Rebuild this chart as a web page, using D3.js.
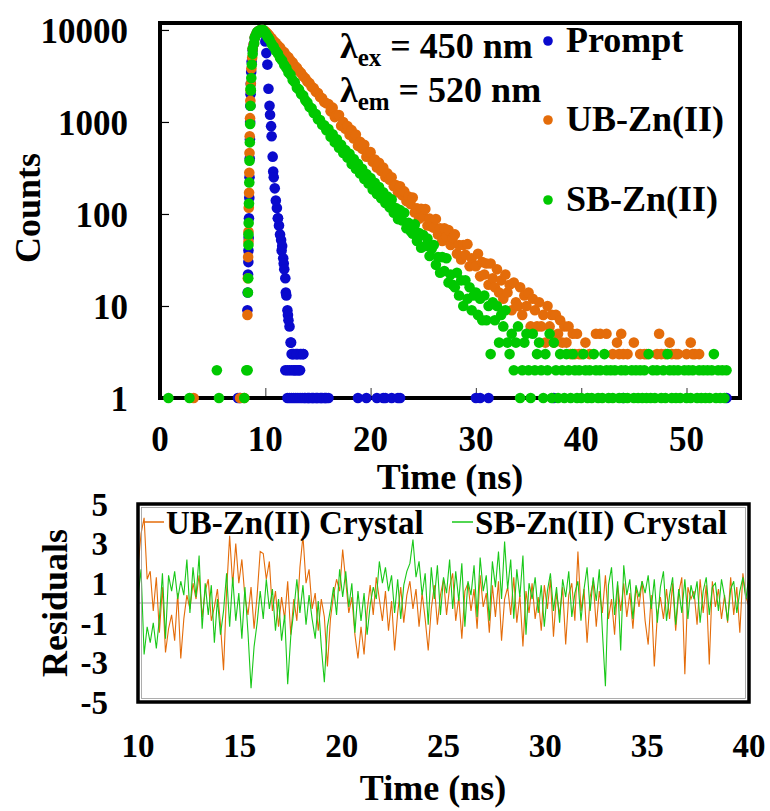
<!DOCTYPE html>
<html><head><meta charset="utf-8">
<script src="https://cdn.jsdelivr.net/npm/d3@7/dist/d3.min.js"></script>
<style>
body{margin:0;background:#fff}
svg{display:block}
text{font-family:"Liberation Serif","Times New Roman",serif;font-weight:bold;fill:#000}
</style>
</head><body>
<svg id="chart" width="770" height="811"></svg>
<script>
// ---------- DATA (top panel: TCSPC decay, counts per 0.2 ns channel, t = 0 ... 54 ns) ----------
const channelWidth = 0.2;
const seriesNames = ["Prompt", "UB-Zn(II)", "SB-Zn(II)"];
const seriesColors = ["#0A0ACD", "#E46C0A", "#00C800"];
const xTicksTop = [0, 10, 20, 30, 40, 50];
const yTicksTop = [1, 10, 100, 1000, 10000];

const promptCounts = [
0,0,0,0,0,0,0,0,0,0, 0,0,0,0,0,0,0,0,0,0, 0,0,0,0,0,0,0,0,0,0, 0,0,0,0,0,0,0,1,1,0,
0,0,40,2000,6000,8200,9300,9800,10000,10000,
7500,4200,1500,700,250,140,90,60,45,25,
13,7,4,3,2,3,2,3,3,1,
1,1,1,1,1,1,1,1,1,1,
1,0,0,0,0,0,0,0,0,0,
0,0,0,0,1,0,0,0,1,0,
0,0,0,1,0,0,1,1,0,0,
1,0,0,1,1,0,0,0,0,0,
0,0,0,0,0,0,0,0,0,0, 0,0,0,0,0,0,0,0,0,0, 0,0,0,0,0,0,0,0,0,0,
1,0,1,0,0,0,1,0,0,0,
0,0,0,0,0,0,0,0,0,0, 0,0,0,0,0,0,0,0,0,0,
0,0,0,0,0,0,0,1,0,0,
0,0,0,0,0,0,0,0,0,0, 0,0,0,0,0,0,0,0,0,0, 0,0,0,0,0,0,0,0,0,0,
1,0,0,0,0,0,0,0,0,0,
0,0,0,0,0,0,0,0,0,0, 0,0,0,0,0,0,0,0,0,0, 0,0,0,0,0,0,0,0,0,0,
0,0,0,0,0,0,0,0,0,1,0];
const promptExtra = [
[8.3,9],[8.33,14],[8.36,22],[8.39,30],[8.42,55],[8.45,90],[8.48,150],[8.5,250],[8.52,400],[8.54,650],
[8.56,1000],[8.58,1500],[8.62,2600],[8.66,3500],[8.7,4500],[8.9,7000],[9.1,8800],[9.3,9600],[9.5,9900],[9.7,10000],
[9.9,9200],[10.1,5600],[10.3,2300],[10.45,1200],[10.55,900],[10.7,420],[10.75,290],[10.9,190],[11.1,116],[11.2,90],
[11.3,75],[11.5,52],[11.55,40],[11.7,33],[11.75,29],[11.9,20],[11.95,14],[12.1,9],[12.15,8],[12.3,6],
[12.45,4],[12.5,3],[12.7,3],[12.9,3],[13.1,3],[13.3,3],[13.6,3],[11.9,2],[12.1,2],[12.3,2],
[12.5,2],[12.7,2],[12.9,2],[13.1,2],[13.3,2],[12.1,1],[12.3,1],[12.5,1],[12.7,1],[12.9,1],
[13.1,1],[13.3,1],[13.5,1],[13.7,1],[14.1,1],[14.5,1],[14.9,1],[15.3,1],[15.7,1]];

const ubCounts = [
0,0,0,0,0,0,0,0,0,0, 0,0,0,0,0,0,1,0,0,0, 0,0,0,0,0,0,0,0,0,0, 0,0,0,0,0,0,0,0,1,0,
1,0,50,2200,6200,8300,9300,9800,10000,10000,
9600,9150,8580,8120,7570,7230,6770,6430,5960,5730,
5280,5040,4660,4430,4070,3880,3570,3410,3140,2990,
2760,2640,2420,2330,2130,2060,1870,1810,1650,1600,
1570,1305,1430,1130,1185,1190,910,1000,845,905,
725,815,660,730,550,610,510,565,420,467,
470,370,390,320,360,293,320,252,276,236,
250,200,206,172,200,160,176,138,155,128,
151,104,115,89,114,94,113,75,89,73,
71,88,60,70,51,70,57,67,46,55,
60,37,46,32,46,36,47,27,33,28,
27,37,21,30,22,29,17,29,20,16,
25,14,19,12,22,14,17,9,18,11,
10,16,8,13,10,14,6,12,9,6,
11,6,8,4,10,6,8,4,8,5,
7,4,6,4,6,3,5,3,5,3,
3,0,4,0,3,0,0,5,0,5,
0,0,5,0,0,3,0,4,3,5,
3,0,3,0,0,4,0,0,3,0,
3,3,0,0,0,0,3,5,3,0,
3,0,4,3,0,3,3,0,0,0,
3,0,4,3,3,0,3,0,0,0,
0,0,0,0,0,0,0,0,0,0,0];
const ubExtra = [
[8.3,8],[8.34,20],[8.37,34],[8.4,64],[8.43,117],[8.46,170],[8.48,280],[8.5,460],[8.52,700],[8.55,1100],
[8.58,1700],[8.62,2600],[8.68,3800],[8.75,5000],[8.9,7000],[9.1,8800],[9.3,9600],[9.5,9900],[9.7,10000],[9.9,9800],
[10.1,9400],[10.3,8850]];

const sbCounts = [
0,0,0,0,1,0,0,0,0,0, 0,0,0,0,1,0,0,0,0,0, 0,0,0,0,0,0,0,2,1,0, 0,0,0,0,0,0,0,0,0,0,
1,2,60,2300,6300,8300,9400,9800,10000,10000,
9300,8450,7850,7050,6550,5950,5550,4950,4650,4150,
3850,3450,3250,2850,2700,2350,2260,2010,1940,1720,
1630,1450,1410,1250,1220,1070,1050,930,920,815,
840,690,735,600,650,525,565,460,495,410,
450,350,395,310,350,275,310,240,272,215,
246,185,218,165,196,148,172,132,155,118,
144,103,116,88,110,85,103,70,80,65,
61,77,51,62,43,59,45,54,35,42,
46,28,34,23,34,24,33,18,22,17,
16,23,13,19,10,19,12,16,9,13,
14,8,12,7,13,7,10,3,11,7,
10,4,8,6,9,4,3,5,2,4,
6,1,2,4,5,2,1,5,2,3,
4,2,1,3,2,5,1,4,2,1,
3,2,1,3,2,1,3,2,1,2,
1,3,2,1,2,1,3,2,1,2,
1,3,2,1,2,1,2,0,1,2,
1,2,1,0,2,1,2,1,2,1,
2,1,3,1,2,1,2,0,1,2,
1,3,2,1,2,1,2,1,0,2,
1,2,1,2,0,1,2,1,2,1,
2,1,2,3,1,2,1,2,1,2,0];
const sbExtra = [
[8.32,2],[8.35,14],[8.38,20],[8.4,46],[8.42,80],[8.45,130],[8.48,220],[8.5,380],[8.53,600],[8.56,950],
[8.6,1500],[8.63,2200],[8.67,3000],[8.72,4200],[8.8,5500],[8.95,7200],[9.1,8700],[9.3,9500],[9.5,9900],[9.7,10000],
[9.9,9300],[10.1,8900],[10.3,8200]];

// ---------- DATA (bottom panel: weighted residuals, every 0.15 ns from 10 to 40 ns) ----------
const residualStart = 10, residualStep = 0.15;
const residualNames = ["UB-Zn(II) Crystal", "SB-Zn(II) Crystal"];
const xTicksRes = [10, 15, 20, 25, 30, 35, 40];
const yTicksRes = [5, 3, 1, -1, -3, -5];
const ubResidual = [
1.8,3.5,4.3,1.2,1.6,-0.4,1.3,-1.5,0.8,-2.5,
-1.3,-0.6,-1.9,0.5,-2.8,-0.8,0.4,-0.3,1.0,0.2,
1.4,-0.7,0.6,1.2,-0.9,-0.2,0.7,-1.1,-3.4,0.6,
3.4,0.9,3.0,1.0,2.2,0.3,-0.6,0.8,-1.3,0.4,
2.6,2.5,1.2,2.1,-0.4,0.6,-1.2,0.3,-0.8,1.1,
-1.6,0.2,-0.9,1.8,3.4,1.0,1.7,-0.3,0.5,-1.4,
0.2,-0.7,-3.2,-0.8,0.4,1.2,0.6,2.7,1.1,-0.5,
0.3,-1.6,-2.8,-1.2,-2.6,-0.4,0.9,-0.6,1.3,0.2,
-0.9,0.6,-1.4,0.1,-2.4,-0.5,0.8,-1.0,0.4,1.1,
-0.3,0.7,-1.2,0.5,-0.8,-2.4,-0.3,0.9,-1.1,0.4,
1.2,-0.6,0.8,1.5,-0.9,0.3,-1.8,0.6,1.0,-0.4,
0.7,-1.3,1.4,-0.2,0.5,-1.5,0.9,-0.7,1.1,-1.9,
0.2,0.8,-0.6,1.3,-1.0,0.4,-2.2,0.6,-0.5,1.0,
-0.8,0.3,-1.4,0.9,-0.3,1.2,-1.7,0.5,-0.6,0.8,
-2.1,0.4,1.0,-0.9,2.6,-0.4,0.7,-2.0,0.3,1.1,
-1.2,0.6,-0.5,1.4,-0.8,0.2,-1.6,0.9,-0.4,1.0,
-0.7,0.5,-1.3,0.8,-0.2,1.1,-0.9,-2.1,0.4,-3.2,
-0.6,0.3,-0.8,0.7,-0.8,1.0,-1.4,0.5,1.3,-3.6,
0.8,0.2,0.6,-1.1,1.2,-0.5,0.9,-3.1,1.1,-0.2,
0.7,-0.8,0.4,-1.0,1.3,-0.6,0.8,-1.5,1.5,0.3,
-0.2];
const sbResidual = [
0.3,1.7,-2.6,-1.2,-2.0,-1.0,-2.3,-0.8,1.5,-1.8,
1.4,0.6,1.6,0.2,1.1,0.4,2.2,-0.5,1.8,0.3,
2.4,-1.3,1.0,-0.6,0.9,-2.0,0.2,-1.6,-0.4,1.5,
-1.2,1.3,-0.9,0.5,-1.8,0.8,-1.5,-4.3,-2.2,-1.0,
0.6,-0.8,1.2,-0.3,0.7,-1.4,0.2,-1.9,-0.6,-4.1,
-1.7,-0.4,1.2,-0.5,0.9,-1.1,0.4,-0.8,-1.8,0.1,
-2.2,-4.0,-1.2,-0.3,0.8,-0.6,1.7,0.3,1.6,-0.2,
1.0,-1.5,0.6,-0.9,0.5,-1.6,-0.1,0.8,0.2,2.1,
1.0,1.8,0.6,1.4,-0.5,1.2,-0.8,0.9,1.6,2.0,
3.2,1.3,2.1,0.4,1.5,-1.1,1.8,0.2,1.9,-0.6,
1.3,0.5,2.2,-0.3,1.6,0.1,2.0,-1.2,1.1,0.4,
1.9,-0.7,2.3,0.6,1.4,-0.9,2.1,0.8,2.6,0.2,
3.1,0.7,2.2,-0.8,1.7,0.3,2.4,-1.6,1.0,0.2,
1.3,-0.5,0.9,-1.2,0.6,1.5,-0.4,0.8,-1.0,1.2,
0.3,1.6,-0.7,0.5,1.1,-0.9,0.7,1.8,-0.4,1.3,
0.1,1.7,-1.4,-4.2,0.9,1.8,-0.6,1.1,-2.4,1.9,
0.4,1.2,-0.8,0.9,0.3,1.1,0.5,1.4,-0.3,1.2,
-1.0,0.8,1.6,-0.9,0.4,1.3,-1.1,0.7,-0.5,1.2,
-0.8,0.9,0.2,1.1,-1.0,0.6,1.3,-0.6,0.8,1.0,
-0.4,1.2,0.3,-0.9,0.7,1.1,-0.5,0.6,1.3,0.2,
1.4];

// ---------- DRAW ----------
const svg = d3.select("#chart");
const FS_TICK = 35, FS_TITLE = 36, FS_LEG = 36;

// ===== Top panel =====
const T = {l:160, r:740, t:23, b:398};
const x1 = d3.scaleLinear().domain([0, 55.08]).range([T.l, T.r]);
const y1 = d3.scaleLog().domain([1, 11900]).range([T.b, T.t]);

svg.append("g").attr("transform", `translate(0,${T.b})`)
  .call(d3.axisBottom(x1).tickValues(xTicksTop.filter(v => v > 0)).tickSize(-10).tickFormat(""))
  .call(g => { g.select(".domain").remove(); g.selectAll("line").attr("stroke", "#555").attr("stroke-width", 1.2); });
svg.append("g").attr("transform", `translate(${T.l},0)`)
  .call(d3.axisLeft(y1).tickValues(yTicksTop.filter(v => v > 1)).tickSize(-9).tickFormat(""))
  .call(g => { g.select(".domain").remove(); g.selectAll("line").attr("stroke", "#000").attr("stroke-width", 1.2); });

svg.append("rect").attr("x", T.l).attr("y", T.t).attr("width", T.r - T.l).attr("height", T.b - T.t)
  .attr("fill", "none").attr("stroke", "#000").attr("stroke-width", 4);

svg.append("g").selectAll("text").data(xTicksTop).join("text")
  .attr("x", d => x1(d)).attr("y", 451).attr("text-anchor", "middle")
  .attr("font-size", FS_TICK).text(d => d);
svg.append("g").selectAll("text").data(yTicksTop).join("text")
  .attr("x", 128).attr("y", d => y1(d)).attr("dy", "0.36em").attr("text-anchor", "end")
  .attr("font-size", FS_TICK).text(d => d);

svg.append("text").attr("x", 450).attr("y", 489).attr("text-anchor", "middle")
  .attr("font-size", FS_TITLE).text("Time (ns)");
svg.append("text").attr("transform", "translate(40,208) rotate(-90)").attr("text-anchor", "middle")
  .attr("font-size", FS_TITLE).text("Counts");

function points(counts, extra) {
  const p = [];
  extra.forEach(e => p.push(e));
  counts.forEach((c, i) => { if (c > 0) p.push([i * channelWidth, c]); });
  return p;
}
const decaySeries = [points(promptCounts, promptExtra), points(ubCounts, ubExtra), points(sbCounts, sbExtra)];
decaySeries.forEach((pts, k) => {
  svg.append("g").selectAll("circle").data(pts).join("circle")
    .attr("cx", d => x1(d[0])).attr("cy", d => y1(d[1])).attr("r", 5.3)
    .attr("fill", seriesColors[k]);
});

const legY = [41, 120, 200];
seriesNames.forEach((n, k) => {
  svg.append("circle").attr("cx", 548).attr("cy", legY[k]).attr("r", 4.8).attr("fill", seriesColors[k]);
  svg.append("text").attr("x", 566).attr("y", legY[k] + 11).attr("font-size", FS_LEG).text(n);
});

function lambdaLine(y, sub, rest) {
  const t = svg.append("text").attr("x", 340).attr("y", y).attr("font-size", FS_LEG);
  t.append("tspan").text("λ");
  t.append("tspan").attr("font-size", 25).attr("dy", 8).text(sub);
  t.append("tspan").attr("dy", -8).text(" " + rest);
}
lambdaLine(58, "ex", "= 450 nm");
lambdaLine(102, "em", "= 520 nm");

// ===== Bottom panel: residuals =====
const B = {l:138, r:749, t:504, b:702};
const x2 = d3.scaleLinear().domain([10, 40]).range([B.l, B.r]);
const y2 = d3.scaleLinear().domain([-5, 5]).range([B.b, B.t]);

svg.append("defs").append("clipPath").attr("id", "resclip")
  .append("rect").attr("x", B.l).attr("y", B.t).attr("width", B.r - B.l).attr("height", B.b - B.t);

svg.append("line").attr("x1", B.l).attr("x2", B.r).attr("y1", y2(0)).attr("y2", y2(0))
  .attr("stroke", "#BDBDBD").attr("stroke-width", 1.6);

const resLine = d3.line().x((d, i) => x2(residualStart + i * residualStep)).y(d => y2(d));
const resData = [ubResidual, sbResidual];
const resColors = [seriesColors[1], "#19C819"];
resData.forEach((arr, k) => {
  svg.append("path").datum(arr).attr("d", resLine).attr("fill", "none")
    .attr("stroke", resColors[k]).attr("stroke-width", 1.1).attr("clip-path", "url(#resclip)");
});

svg.append("rect").attr("x", B.l).attr("y", B.t).attr("width", B.r - B.l).attr("height", B.b - B.t)
  .attr("fill", "none").attr("stroke", "#000").attr("stroke-width", 3.5);
svg.append("rect").attr("x", B.l + 3.5).attr("y", B.t + 3.5).attr("width", B.r - B.l - 7).attr("height", B.b - B.t - 7)
  .attr("fill", "none").attr("stroke", "#9a9a9a").attr("stroke-width", 0.8);

const rLegX = [143, 452], rLegText = [166, 475];
residualNames.forEach((n, k) => {
  svg.append("line").attr("x1", rLegX[k]).attr("x2", rLegX[k] + 21).attr("y1", 522).attr("y2", 522)
    .attr("stroke", resColors[k]).attr("stroke-width", 1.5);
  svg.append("text").attr("x", rLegText[k]).attr("y", 534).attr("font-size", 33).text(n);
});

svg.append("g").selectAll("text").data(xTicksRes).join("text")
  .attr("x", d => x2(d)).attr("y", 757).attr("text-anchor", "middle")
  .attr("font-size", 33).text(d => d);
svg.append("g").selectAll("text").data(yTicksRes).join("text")
  .attr("x", 108).attr("y", d => y2(d)).attr("dy", "0.36em").attr("text-anchor", "end")
  .attr("font-size", 33).text(d => d);

svg.append("text").attr("x", 433).attr("y", 800).attr("text-anchor", "middle")
  .attr("font-size", FS_TITLE).text("Time (ns)");
svg.append("text").attr("transform", `translate(67,${y2(0)}) rotate(-90)`).attr("text-anchor", "middle")
  .attr("font-size", FS_TITLE).text("Residuals");
</script>
</body></html>
